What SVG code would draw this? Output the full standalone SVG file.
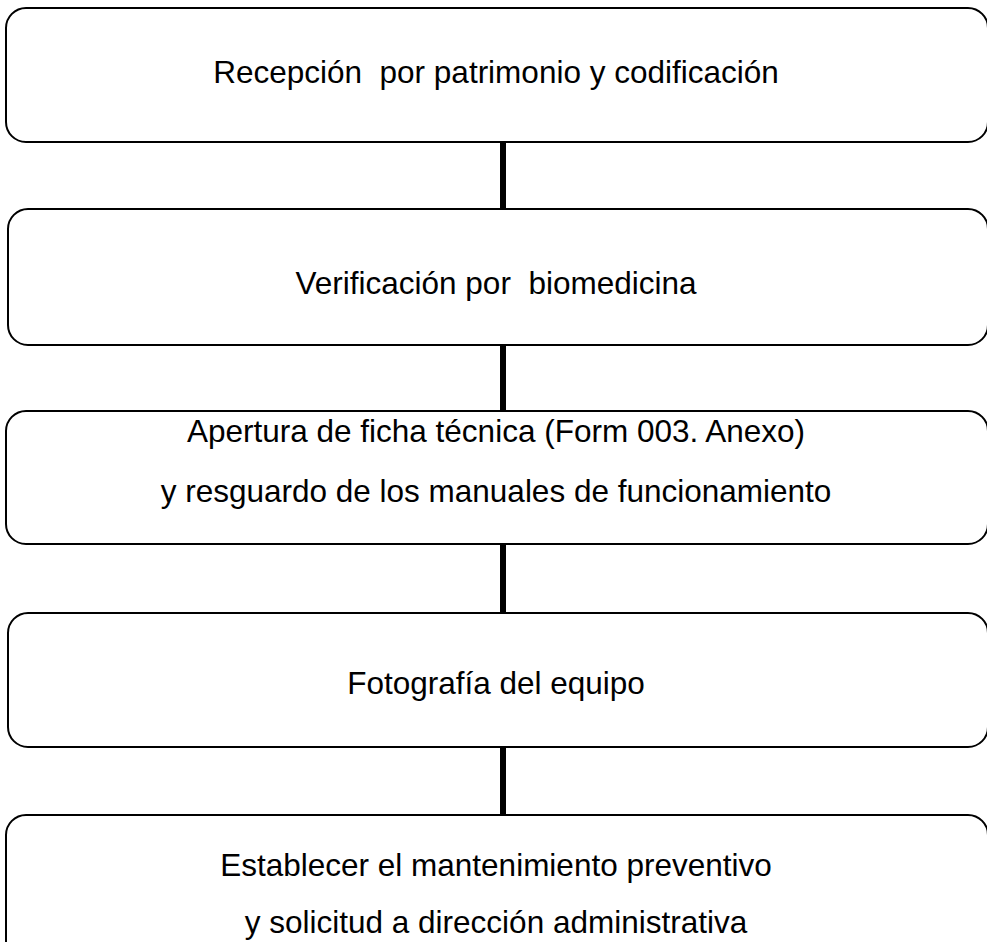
<svg xmlns="http://www.w3.org/2000/svg" width="987" height="942" viewBox="0 0 987 942">
  <style>
    .box { fill: #ffffff; stroke: #000000; stroke-width: 2; }
    .lbl { font-family: "Liberation Sans", Arial, sans-serif; font-size: 31.5px; fill: #000000; text-anchor: middle; }
    .conn { stroke: #000000; stroke-width: 6; fill: none; }
  </style>
  <rect width="987" height="942" fill="#ffffff"/>
  <g id="connectors">
    <line class="conn" x1="503" y1="142" x2="503" y2="209"/>
    <line class="conn" x1="503" y1="345" x2="503" y2="411"/>
    <line class="conn" x1="503" y1="544" x2="503" y2="613"/>
    <line class="conn" x1="503" y1="747" x2="503" y2="815"/>
  </g>
  <g id="node1">
    <rect class="box" x="6" y="8" width="982" height="134" rx="20" ry="20"/>
    <text class="lbl" x="496" y="83" xml:space="preserve">Recepción  por patrimonio y codificación</text>
  </g>
  <g id="node2">
    <rect class="box" x="8" y="209" width="980" height="136" rx="20" ry="20"/>
    <text class="lbl" x="496" y="294" xml:space="preserve">Verificación por  biomedicina</text>
  </g>
  <g id="node3">
    <rect class="box" x="6" y="411" width="982" height="133" rx="20" ry="20"/>
    <text class="lbl" x="496" y="442">Apertura de ficha técnica (Form 003. Anexo)</text>
    <text class="lbl" x="496" y="502">y resguardo de los manuales de funcionamiento</text>
  </g>
  <g id="node4">
    <rect class="box" x="8" y="613" width="980" height="134" rx="20" ry="20"/>
    <text class="lbl" x="496" y="694">Fotografía del equipo</text>
  </g>
  <g id="node5">
    <rect class="box" x="6" y="815" width="982" height="150" rx="20" ry="20"/>
    <text class="lbl" x="496" y="876">Establecer el mantenimiento preventivo</text>
    <text class="lbl" x="496" y="933">y solicitud a dirección administrativa</text>
  </g>
</svg>
